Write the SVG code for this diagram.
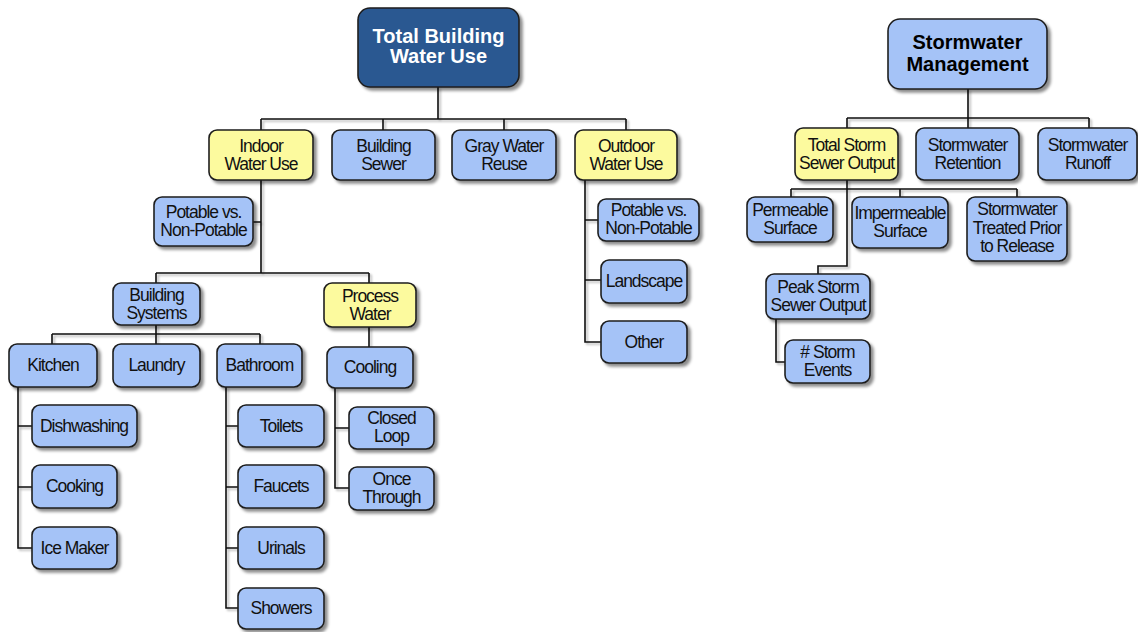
<svg xmlns="http://www.w3.org/2000/svg" width="1138" height="632" viewBox="0 0 1138 632">
  <defs>
    <filter id="shadow" x="-20%" y="-20%" width="140%" height="150%">
      <feGaussianBlur in="SourceAlpha" stdDeviation="1.6"/>
      <feOffset dx="3" dy="3" result="blur"/>
      <feFlood flood-color="#000" flood-opacity="0.45"/>
      <feComposite in2="blur" operator="in"/>
      <feMerge>
        <feMergeNode/>
        <feMergeNode in="SourceGraphic"/>
      </feMerge>
    </filter>
    <filter id="lineShadow" x="-5%" y="-5%" width="110%" height="110%">
      <feGaussianBlur in="SourceAlpha" stdDeviation="1"/>
      <feOffset dx="2" dy="2" result="blur"/>
      <feFlood flood-color="#000" flood-opacity="0.3"/>
      <feComposite in2="blur" operator="in"/>
      <feMerge>
        <feMergeNode/>
        <feMergeNode in="SourceGraphic"/>
      </feMerge>
    </filter>
  </defs>
  <style>
    .box { stroke: #1e1e1e; stroke-width: 1.6; filter: url(#shadow); }
    .blue { fill: #A5C3F7; }
    .yellow { fill: #FCFA9E; }
    .dark { fill: #2C5891; }
    text { font-family: "Liberation Sans", Arial, sans-serif; text-anchor: middle; }
    .lbl { font-size: 17.5px; letter-spacing: -1px; fill: #111; }
    .title { font-size: 20px; font-weight: bold; fill: #fff; }
    .title2 { font-size: 20px; font-weight: bold; fill: #000; }
    .links path { fill: none; stroke: #111; stroke-width: 1.6; }
  </style>

  <!-- connectors -->
  <g id="connectors" class="links" filter="url(#lineShadow)">
    <path d="M438 87 V119 M261 119 H626 M261 119 V130 M383 119 V130 M504 119 V130 M626 119 V130"/>
    <path d="M261 180 V273 M253 222 H261 M156 273 H369 M156 273 V283 M369 273 V283"/>
    <path d="M156 325 V334 M52 334 H260 M52 334 V344 M156 334 V344 M260 334 V344"/>
    <path d="M369 327 V347"/>
    <path d="M18 387 V548 H32 M18 426 H32 M18 487 H32"/>
    <path d="M226 387 V608 H238 M226 426 H238 M226 487 H238 M226 548 H238"/>
    <path d="M335 388 V488 H349 M335 428 H349"/>
    <path d="M585 180 V342 H601 M585 220 H598 M585 280 H601"/>
    <path d="M968 89 V118 M847 118 H1089 M847 118 V128 M968 118 V128 M1089 118 V128"/>
    <path d="M847 180 V266 H818 V274 M791 189 H1017 M791 189 V197 M900 189 V197 M1017 189 V197"/>
    <path d="M776 319 V362 H785"/>
  </g>

  <!-- water use tree -->
  <g id="total-building-water-use">
    <rect class="box dark" x="358" y="8" width="161" height="79" rx="12"/>
    <text class="title" x="438.5" y="43">Total Building</text>
    <text class="title" x="438.5" y="63">Water Use</text>
  </g>
  <g id="indoor-water-use">
    <rect class="box yellow" x="209" y="130" width="104" height="50" rx="8"/>
    <text class="lbl" x="261" y="152">Indoor</text>
    <text class="lbl" x="261" y="170">Water Use</text>
  </g>
  <g id="building-sewer">
    <rect class="box blue" x="332" y="130" width="103" height="50" rx="8"/>
    <text class="lbl" x="383.5" y="152">Building</text>
    <text class="lbl" x="383.5" y="170">Sewer</text>
  </g>
  <g id="gray-water-reuse">
    <rect class="box blue" x="452" y="130" width="104" height="50" rx="8"/>
    <text class="lbl" x="504" y="152">Gray Water</text>
    <text class="lbl" x="504" y="170">Reuse</text>
  </g>
  <g id="outdoor-water-use">
    <rect class="box yellow" x="575" y="130" width="102" height="50" rx="8"/>
    <text class="lbl" x="626" y="152">Outdoor</text>
    <text class="lbl" x="626" y="170">Water Use</text>
  </g>
  <g id="indoor-potable">
    <rect class="box blue" x="154" y="197" width="99" height="49" rx="8"/>
    <text class="lbl" x="203.5" y="218">Potable vs.</text>
    <text class="lbl" x="203.5" y="236">Non-Potable</text>
  </g>
  <g id="building-systems">
    <rect class="box blue" x="113" y="283" width="87" height="42" rx="8"/>
    <text class="lbl" x="156.5" y="301">Building</text>
    <text class="lbl" x="156.5" y="319">Systems</text>
  </g>
  <g id="process-water">
    <rect class="box yellow" x="324" y="283" width="92" height="44" rx="8"/>
    <text class="lbl" x="370" y="302">Process</text>
    <text class="lbl" x="370" y="320">Water</text>
  </g>
  <g id="kitchen">
    <rect class="box blue" x="9" y="344" width="88" height="43" rx="8"/>
    <text class="lbl" x="53" y="371">Kitchen</text>
  </g>
  <g id="laundry">
    <rect class="box blue" x="113" y="344" width="87" height="43" rx="8"/>
    <text class="lbl" x="156.5" y="371">Laundry</text>
  </g>
  <g id="bathroom">
    <rect class="box blue" x="217" y="344" width="85" height="43" rx="8"/>
    <text class="lbl" x="259.5" y="371">Bathroom</text>
  </g>
  <g id="cooling">
    <rect class="box blue" x="327" y="347" width="86" height="41" rx="8"/>
    <text class="lbl" x="370" y="373">Cooling</text>
  </g>
  <g id="dishwashing">
    <rect class="box blue" x="32" y="405" width="105" height="42" rx="8"/>
    <text class="lbl" x="84" y="432">Dishwashing</text>
  </g>
  <g id="cooking">
    <rect class="box blue" x="32" y="465" width="85" height="43" rx="8"/>
    <text class="lbl" x="74.5" y="492">Cooking</text>
  </g>
  <g id="ice-maker">
    <rect class="box blue" x="32" y="527" width="85" height="42" rx="8"/>
    <text class="lbl" x="74.5" y="554">Ice Maker</text>
  </g>
  <g id="toilets">
    <rect class="box blue" x="238" y="405" width="86" height="42" rx="8"/>
    <text class="lbl" x="281" y="432">Toilets</text>
  </g>
  <g id="faucets">
    <rect class="box blue" x="238" y="465" width="86" height="43" rx="8"/>
    <text class="lbl" x="281" y="492">Faucets</text>
  </g>
  <g id="urinals">
    <rect class="box blue" x="238" y="527" width="86" height="42" rx="8"/>
    <text class="lbl" x="281" y="554">Urinals</text>
  </g>
  <g id="showers">
    <rect class="box blue" x="238" y="588" width="86" height="41" rx="8"/>
    <text class="lbl" x="281" y="614">Showers</text>
  </g>
  <g id="closed-loop">
    <rect class="box blue" x="349" y="407" width="85" height="42" rx="8"/>
    <text class="lbl" x="391.5" y="424">Closed</text>
    <text class="lbl" x="391.5" y="442">Loop</text>
  </g>
  <g id="once-through">
    <rect class="box blue" x="349" y="467" width="85" height="43" rx="8"/>
    <text class="lbl" x="391.5" y="485">Once</text>
    <text class="lbl" x="391.5" y="503">Through</text>
  </g>
  <g id="outdoor-potable">
    <rect class="box blue" x="598" y="199" width="101" height="42" rx="8"/>
    <text class="lbl" x="648.5" y="216">Potable vs.</text>
    <text class="lbl" x="648.5" y="234">Non-Potable</text>
  </g>
  <g id="landscape">
    <rect class="box blue" x="601" y="260" width="86" height="43" rx="8"/>
    <text class="lbl" x="644" y="287">Landscape</text>
  </g>
  <g id="other">
    <rect class="box blue" x="601" y="321" width="86" height="42" rx="8"/>
    <text class="lbl" x="644" y="348">Other</text>
  </g>

  <!-- stormwater tree -->
  <g id="stormwater-management">
    <rect class="box blue" x="888" y="19" width="159" height="70" rx="12"/>
    <text class="title2" x="967.5" y="49">Stormwater</text>
    <text class="title2" x="967.5" y="71">Management</text>
  </g>
  <g id="total-storm-sewer-output">
    <rect class="box yellow" x="795" y="128" width="103" height="52" rx="8"/>
    <text class="lbl" x="846.5" y="151">Total Storm</text>
    <text class="lbl" x="846.5" y="169">Sewer Output</text>
  </g>
  <g id="stormwater-retention">
    <rect class="box blue" x="916" y="128" width="103" height="52" rx="8"/>
    <text class="lbl" x="967.5" y="151">Stormwater</text>
    <text class="lbl" x="967.5" y="169">Retention</text>
  </g>
  <g id="stormwater-runoff">
    <rect class="box blue" x="1038" y="128" width="99" height="52" rx="8"/>
    <text class="lbl" x="1087.5" y="151">Stormwater</text>
    <text class="lbl" x="1087.5" y="169">Runoff</text>
  </g>
  <g id="permeable-surface">
    <rect class="box blue" x="747" y="197" width="86" height="45" rx="8"/>
    <text class="lbl" x="790" y="216">Permeable</text>
    <text class="lbl" x="790" y="234">Surface</text>
  </g>
  <g id="impermeable-surface">
    <rect class="box blue" x="852" y="197" width="96" height="51" rx="8"/>
    <text class="lbl" x="900" y="219">Impermeable</text>
    <text class="lbl" x="900" y="237">Surface</text>
  </g>
  <g id="stormwater-treated">
    <rect class="box blue" x="967" y="197" width="100" height="64" rx="8"/>
    <text class="lbl" x="1017" y="215">Stormwater</text>
    <text class="lbl" x="1017" y="234">Treated Prior</text>
    <text class="lbl" x="1017" y="252">to Release</text>
  </g>
  <g id="peak-storm-sewer-output">
    <rect class="box blue" x="766" y="274" width="104" height="45" rx="8"/>
    <text class="lbl" x="818" y="293">Peak Storm</text>
    <text class="lbl" x="818" y="311">Sewer Output</text>
  </g>
  <g id="storm-events">
    <rect class="box blue" x="785" y="340" width="85" height="43" rx="8"/>
    <text class="lbl" x="827.5" y="358"># Storm</text>
    <text class="lbl" x="827.5" y="376">Events</text>
  </g>
</svg>
